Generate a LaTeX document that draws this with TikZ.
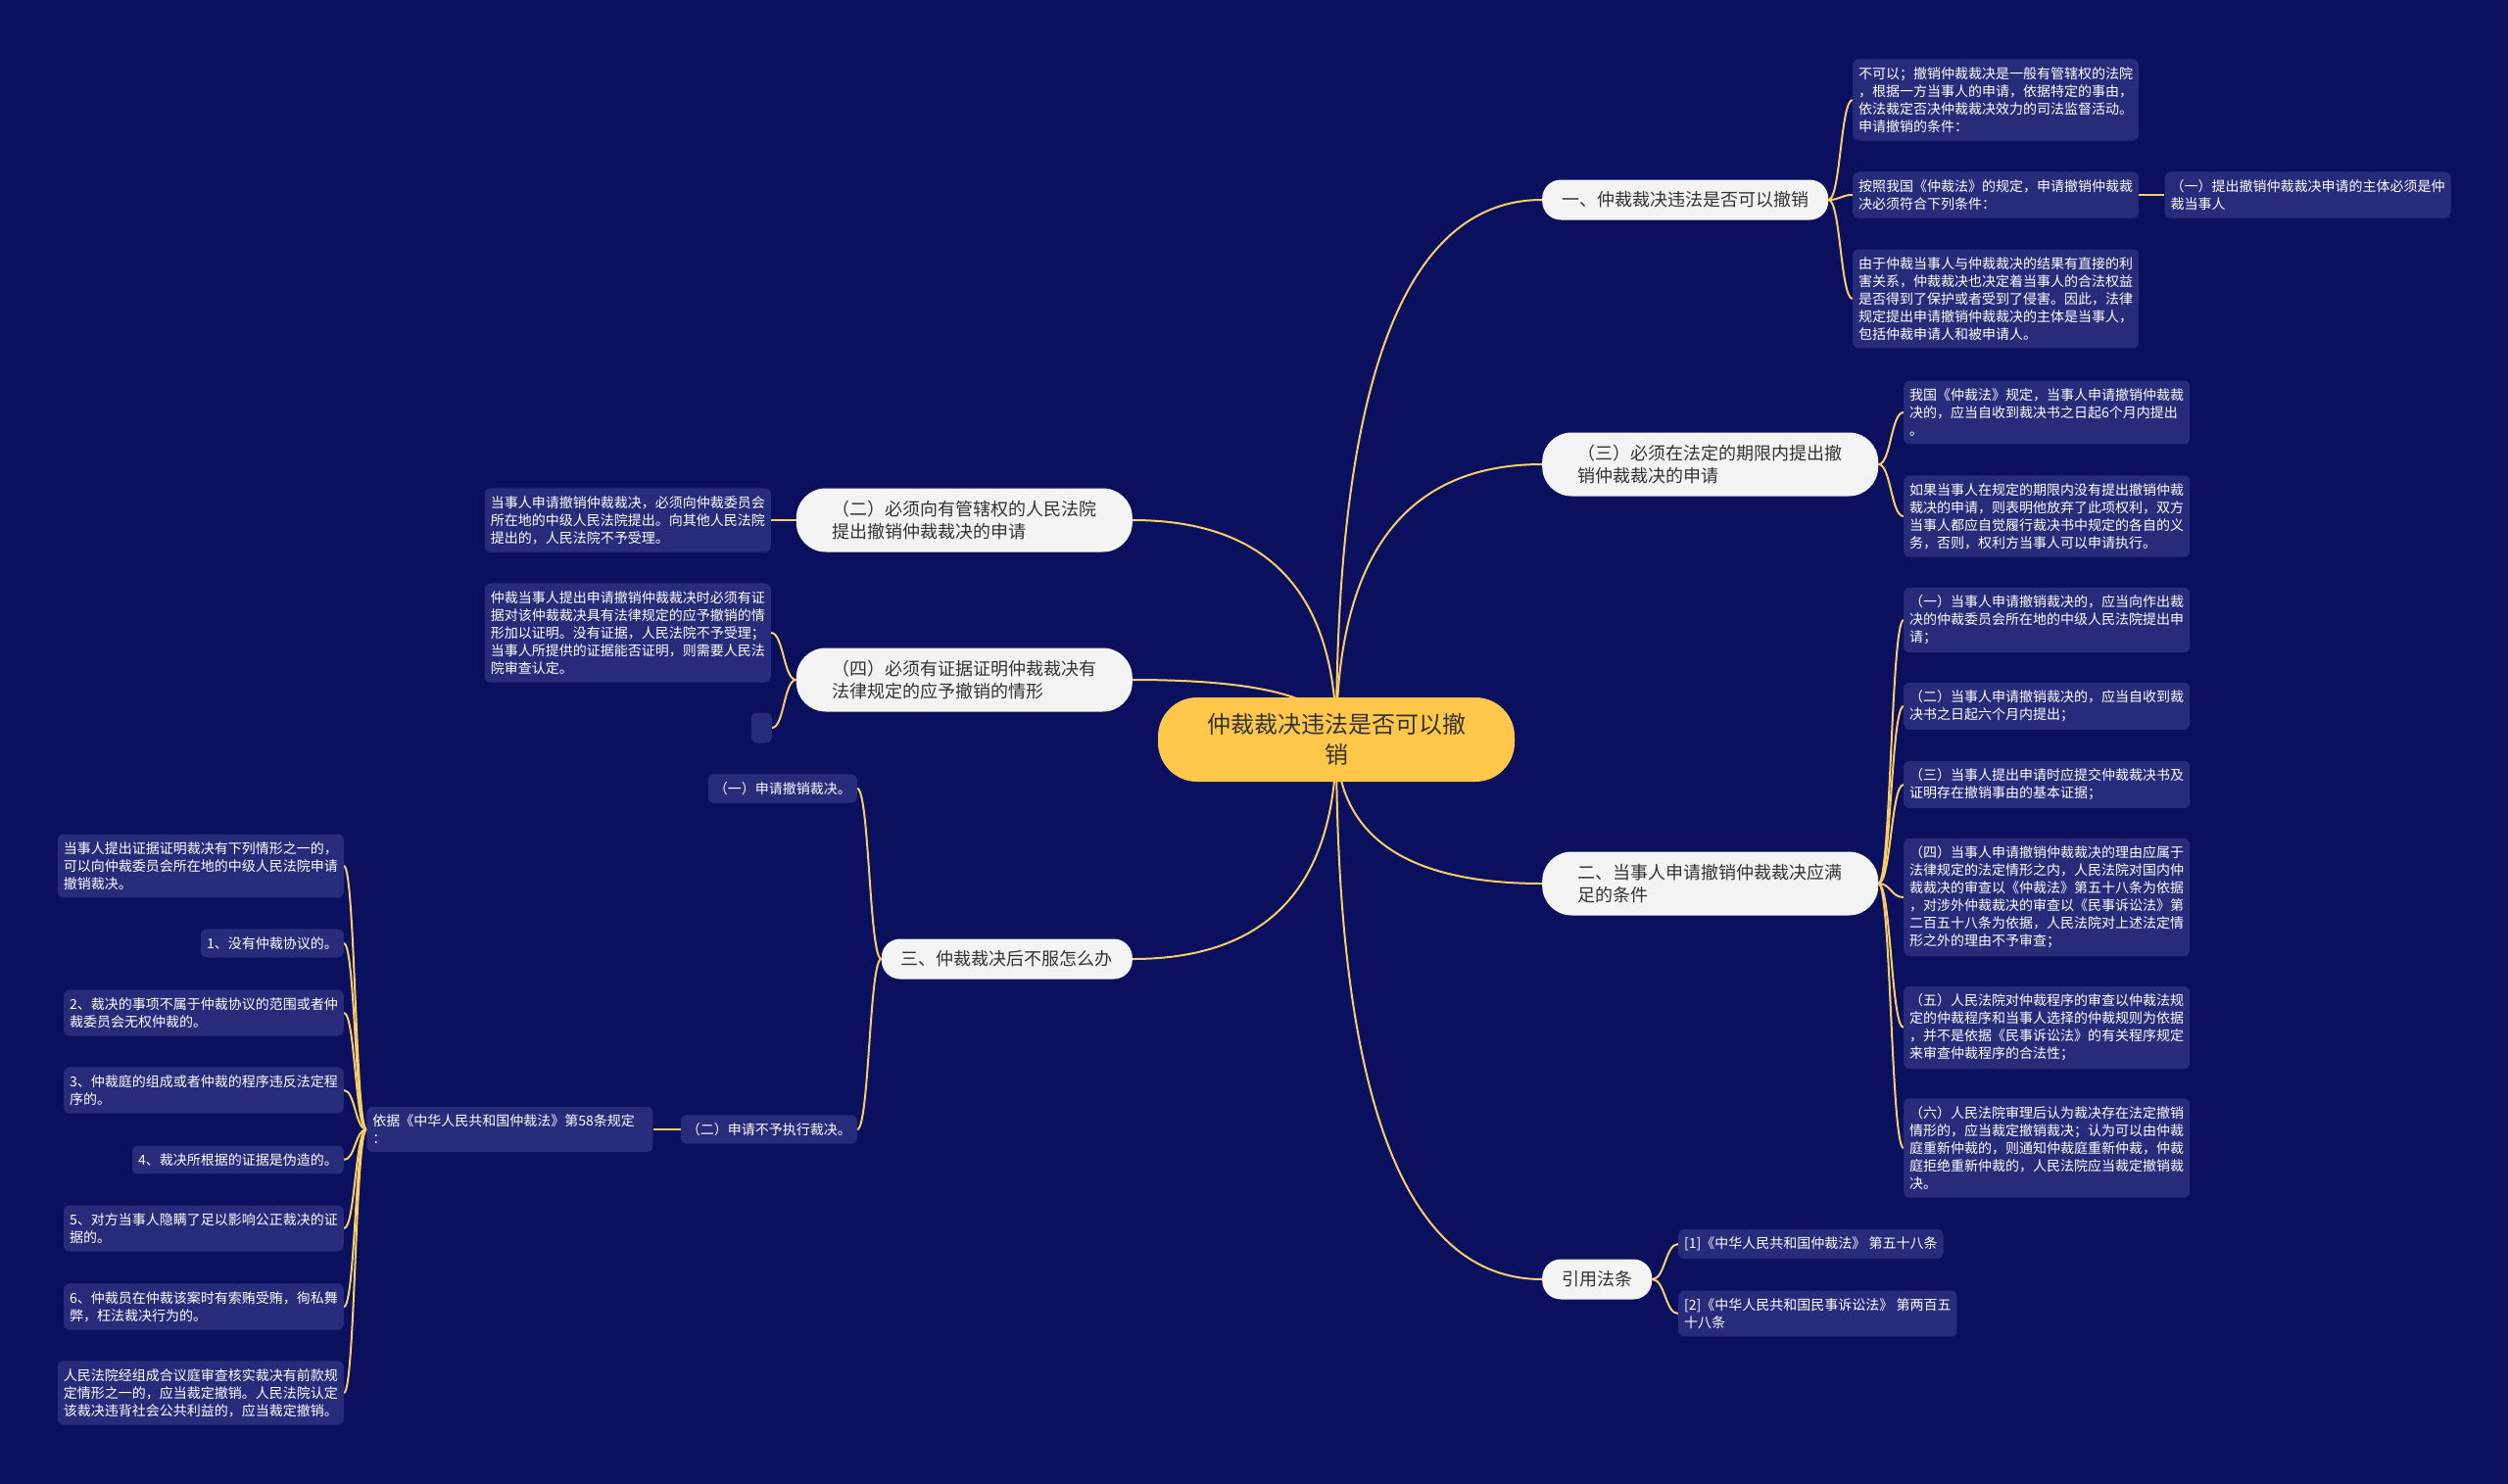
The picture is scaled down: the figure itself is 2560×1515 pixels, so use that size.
\documentclass[tikz,border=0pt]{standalone}
\usepackage{fontspec}
\setmainfont{Noto Sans CJK SC}
\usepackage{tikz}
\usetikzlibrary{positioning, calc}
\definecolor{nightblue}{RGB}{10,15,94}
\definecolor{cardblue}{RGB}{38,43,122}
\definecolor{rootgold}{RGB}{255,200,74}
\definecolor{linegold}{RGB}{250,206,102}
\definecolor{pillwhite}{RGB}{244,244,244}
\definecolor{inkgrey}{RGB}{51,51,51}
\pgfdeclarelayer{bg}
\pgfdeclarelayer{edges}
\pgfsetlayers{bg,edges,main}

\begin{document}
\begin{tikzpicture}[x=1pt, y=-1pt,
        rootbox/.style={rectangle, fill=rootgold, text=inkgrey, rounded corners=40pt, minimum width=364pt, minimum height=86pt, align=center, font=\fontsize{24}{31}\selectfont},
        topicbox/.style={rectangle, fill=pillwhite, text=inkgrey, rounded corners=19pt, inner xsep=20pt, minimum height=41pt, align=left, font=\fontsize{18}{23}\selectfont},
        widebox/.style={topicbox, rounded corners=30pt, minimum width=343pt, minimum height=65pt},
        leafbox/.style={rectangle, fill=cardblue, text=white, rounded corners=6pt, inner xsep=6pt, inner ysep=8pt, align=left, font=\fontsize{14}{18}\selectfont},
        branch/.style={draw=linegold, line width=2pt},
        twig/.style={draw=linegold, line width=2pt}
    ]
        \useasboundingbox (0,0) rectangle (2560,1515);
        \begin{pgfonlayer}{bg}
            \fill[nightblue] (0,0) rectangle (2560,1515);
        \end{pgfonlayer}

        % centre and main topics
        \node[rootbox] (ROOT) at (1364,755) {仲裁裁决违法是否可以撤\\销};
        \node[topicbox, anchor=west] (REVOKE) at (1574,204) {一、仲裁裁决违法是否可以撤销};
        \node[widebox, anchor=west] (TERM) at (1574,474) {（三）必须在法定的期限内提出撤\\销仲裁裁决的申请};
        \node[widebox, anchor=west] (COND) at (1574,902) {二、当事人申请撤销仲裁裁决应满\\足的条件};
        \node[topicbox, anchor=west] (LAWS) at (1574,1306) {引用法条};
        \node[widebox, anchor=east] (COURT) at (1156,531) {（二）必须向有管辖权的人民法院\\提出撤销仲裁裁决的申请};
        \node[widebox, anchor=east] (PROOF) at (1156,694) {（四）必须有证据证明仲裁裁决有\\法律规定的应予撤销的情形};
        \node[topicbox, anchor=east] (AFTER) at (1156,979) {三、仲裁裁决后不服怎么办};

        % right side
        \node[leafbox, anchor=west] (REVOKEa) at (1891,102) {不可以；撤销仲裁裁决是一般有管辖权的法院\\，根据一方当事人的申请，依据特定的事由，\\依法裁定否决仲裁裁决效力的司法监督活动。\\申请撤销的条件：};
        \node[leafbox, anchor=west] (REVOKEb) at (1891,199) {按照我国《仲裁法》的规定，申请撤销仲裁裁\\决必须符合下列条件：};
        \node[leafbox, anchor=west] (REVOKEc) at (1891,305) {由于仲裁当事人与仲裁裁决的结果有直接的利\\害关系，仲裁裁决也决定着当事人的合法权益\\是否得到了保护或者受到了侵害。因此，法律\\规定提出申请撤销仲裁裁决的主体是当事人，\\包括仲裁申请人和被申请人。};
        \node[leafbox, right=26pt of REVOKEb] (REVOKEd) {（一）提出撤销仲裁裁决申请的主体必须是仲\\裁当事人};
        \node[leafbox, anchor=west] (TERMa) at (1943,421) {我国《仲裁法》规定，当事人申请撤销仲裁裁\\决的，应当自收到裁决书之日起6个月内提出\\。};
        \node[leafbox, anchor=west] (TERMb) at (1943,527) {如果当事人在规定的期限内没有提出撤销仲裁\\裁决的申请，则表明他放弃了此项权利，双方\\当事人都应自觉履行裁决书中规定的各自的义\\务，否则，权利方当事人可以申请执行。};
        \node[leafbox, anchor=west] (CONDa) at (1943,633) {（一）当事人申请撤销裁决的，应当向作出裁\\决的仲裁委员会所在地的中级人民法院提出申\\请；};
        \node[leafbox, anchor=west] (CONDb) at (1943,721) {（二）当事人申请撤销裁决的，应当自收到裁\\决书之日起六个月内提出；};
        \node[leafbox, anchor=west] (CONDc) at (1943,801) {（三）当事人提出申请时应提交仲裁裁决书及\\证明存在撤销事由的基本证据；};
        \node[leafbox, anchor=west] (CONDd) at (1943,916) {（四）当事人申请撤销仲裁裁决的理由应属于\\法律规定的法定情形之内，人民法院对国内仲\\裁裁决的审查以《仲裁法》第五十八条为依据\\，对涉外仲裁裁决的审查以《民事诉讼法》第\\二百五十八条为依据，人民法院对上述法定情\\形之外的理由不予审查；};
        \node[leafbox, anchor=west] (CONDe) at (1943,1049) {（五）人民法院对仲裁程序的审查以仲裁法规\\定的仲裁程序和当事人选择的仲裁规则为依据\\，并不是依据《民事诉讼法》的有关程序规定\\来审查仲裁程序的合法性；};
        \node[leafbox, anchor=west] (CONDf) at (1943,1172) {（六）人民法院审理后认为裁决存在法定撤销\\情形的，应当裁定撤销裁决；认为可以由仲裁\\庭重新仲裁的，则通知仲裁庭重新仲裁，仲裁\\庭拒绝重新仲裁的，人民法院应当裁定撤销裁\\决。};
        \node[leafbox, anchor=west] (LAWSa) at (1713,1270) {[1]《中华人民共和国仲裁法》 第五十八条};
        \node[leafbox, anchor=west] (LAWSb) at (1713,1341) {[2]《中华人民共和国民事诉讼法》 第两百五\\十八条};

        % left side
        \node[leafbox, anchor=east] (COURTa) at (787,531) {当事人申请撤销仲裁裁决，必须向仲裁委员会\\所在地的中级人民法院提出。向其他人民法院\\提出的，人民法院不予受理。};
        \node[leafbox, anchor=east] (PROOFa) at (787,646) {仲裁当事人提出申请撤销仲裁裁决时必须有证\\据对该仲裁裁决具有法律规定的应予撤销的情\\形加以证明。没有证据，人民法院不予受理；\\当事人所提供的证据能否证明，则需要人民法\\院审查认定。};
        \node[leafbox, anchor=east, minimum width=21pt, minimum height=31pt] (PROOFb) at (788,743) {};
        \node[leafbox, anchor=east] (AFTERa) at (875,805) {（一）申请撤销裁决。};
        \node[leafbox, anchor=east] (AFTERb) at (875,1153) {（二）申请不予执行裁决。};
        \node[leafbox, text width=280pt, left=28pt of AFTERb] (AFTERc) {依据《中华人民共和国仲裁法》第58条规定\\：};
        \node[leafbox, anchor=east] (GROUNDa) at (351,884) {当事人提出证据证明裁决有下列情形之一的，\\可以向仲裁委员会所在地的中级人民法院申请\\撤销裁决。};
        \node[leafbox, anchor=east] (GROUNDb) at (351,963) {1、没有仲裁协议的。};
        \node[leafbox, anchor=east] (GROUNDc) at (351,1034) {2、裁决的事项不属于仲裁协议的范围或者仲\\裁委员会无权仲裁的。};
        \node[leafbox, anchor=east] (GROUNDd) at (351,1113) {3、仲裁庭的组成或者仲裁的程序违反法定程\\序的。};
        \node[leafbox, anchor=east] (GROUNDe) at (351,1184) {4、裁决所根据的证据是伪造的。};
        \node[leafbox, anchor=east] (GROUNDf) at (351,1254) {5、对方当事人隐瞒了足以影响公正裁决的证\\据的。};
        \node[leafbox, anchor=east] (GROUNDg) at (351,1334) {6、仲裁员在仲裁该案时有索贿受贿，徇私舞\\弊，枉法裁决行为的。};
        \node[leafbox, anchor=east] (GROUNDh) at (351,1422) {人民法院经组成合议庭审查核实裁决有前款规\\定情形之一的，应当裁定撤销。人民法院认定\\该裁决违背社会公共利益的，应当裁定撤销。};

        % connectors
        \begin{pgfonlayer}{edges}
            \foreach \n/\side in {REVOKE/west, TERM/west, COND/west, LAWS/west, COURT/east, PROOF/east, AFTER/east}
                \draw[branch] (ROOT.center) .. controls ($(ROOT.center)!2/3!(ROOT.center |- \n.\side)$) and ($(\n.\side)!2/3!(ROOT.center |- \n.\side)$) .. (\n.\side);
            \foreach \p/\c in {REVOKE/REVOKEa, REVOKE/REVOKEb, REVOKE/REVOKEc, REVOKEb/REVOKEd, TERM/TERMa, TERM/TERMb, COND/CONDa, COND/CONDb, COND/CONDc, COND/CONDd, COND/CONDe, COND/CONDf, LAWS/LAWSa, LAWS/LAWSb}
                \draw[twig] (\p.east) .. controls ($(\p.east)!0.5!(\c.west |- \p.east)$) and ($(\c.west)!0.5!(\p.east |- \c.west)$) .. (\c.west);
            \foreach \p/\c in {COURT/COURTa, PROOF/PROOFa, PROOF/PROOFb, AFTER/AFTERa, AFTER/AFTERb, AFTERb/AFTERc, AFTERc/GROUNDa, AFTERc/GROUNDb, AFTERc/GROUNDc, AFTERc/GROUNDd, AFTERc/GROUNDe, AFTERc/GROUNDf, AFTERc/GROUNDg, AFTERc/GROUNDh}
                \draw[twig] (\p.west) .. controls ($(\p.west)!0.5!(\c.east |- \p.west)$) and ($(\c.east)!0.5!(\p.west |- \c.east)$) .. (\c.east);
        \end{pgfonlayer}
    \end{tikzpicture}
\end{document}
